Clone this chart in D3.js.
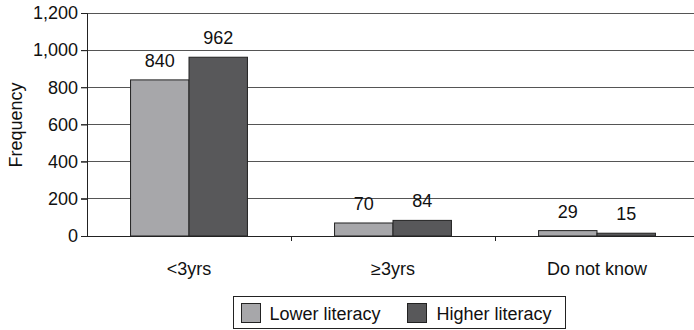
<!DOCTYPE html>
<html>
<head>
<meta charset="utf-8">
<script src="https://cdn.jsdelivr.net/npm/d3@7"></script>
<style>
  html, body { margin: 0; padding: 0; background: #fff; }
  svg { display: block; font-family: "Liberation Sans", Arial, sans-serif; }
</style>
</head>
<body>
<svg id="chart" width="694" height="330"></svg>
<script>
// Knowledge of duration, by literacy level
const categories = ["<3yrs", "\u22653yrs", "Do not know"];
const seriesNames = ["Lower literacy", "Higher literacy"];
const lowerLiteracy = [840, 70, 29];
const higherLiteracy = [962, 84, 15];
const yTicks = [0, 200, 400, 600, 800, 1000, 1200];
const colors = ["#a7a7aa", "#58585a"];

const svg = d3.select("#chart");
const margin = { left: 87, top: 13, right: -5, bottom: 94 };
const width = 694 - margin.left - margin.right;
const height = 330 - margin.top - margin.bottom;

const g = svg.append("g").attr("transform", `translate(${margin.left},${margin.top})`);

const x = d3.scaleBand().domain(categories).range([0, width]).paddingInner(0).paddingOuter(0);
const xs = d3.scaleBand().domain(seriesNames).range([0, x.bandwidth()]).paddingInner(0).paddingOuter(0.745);
const y = d3.scaleLinear().domain([0, 1200]).range([height, 0]);

// gridlines
g.append("g").selectAll("line").data(yTicks.filter(t => t > 0)).join("line")
  .attr("x1", -6).attr("x2", width)
  .attr("y1", d => y(d)).attr("y2", d => y(d))
  .attr("stroke", "#555").attr("stroke-width", 1).attr("shape-rendering", "crispEdges");

// y axis
const yAxis = g.append("g").call(d3.axisLeft(y).tickValues(yTicks).tickFormat(d3.format(",")).tickSize(6).tickPadding(3));
yAxis.select(".domain").attr("stroke", "#222");
yAxis.selectAll(".tick line").attr("stroke", "#222");
yAxis.selectAll("text").attr("font-size", 18).attr("fill", "#111");

// bars
const rows = categories.map((c, i) => ({ cat: c, vals: [lowerLiteracy[i], higherLiteracy[i]] }));
const grp = g.append("g").selectAll("g").data(rows).join("g")
  .attr("transform", d => `translate(${x(d.cat)},0)`);
grp.selectAll("rect").data(d => d.vals.map((v, j) => ({ v, s: seriesNames[j], j }))).join("rect")
  .attr("x", d => xs(d.s)).attr("width", xs.bandwidth())
  .attr("y", d => y(d.v)).attr("height", d => y(0) - y(d.v))
  .attr("fill", d => colors[d.j]).attr("stroke", "#222").attr("stroke-width", 1);
grp.selectAll("text").data(d => d.vals.map((v, j) => ({ v, s: seriesNames[j] }))).join("text")
  .attr("x", d => xs(d.s) + xs.bandwidth() / 2)
  .attr("y", d => y(d.v) - 13)
  .attr("text-anchor", "middle").attr("font-size", 18).attr("fill", "#111")
  .text(d => d.v);

// x axis
const xAxis = g.append("g").attr("transform", `translate(0,${height})`)
  .call(d3.axisBottom(x).tickSize(0).tickPadding(26.5));
xAxis.select(".domain").remove();
xAxis.selectAll("text").attr("font-size", 18).attr("fill", "#111");
g.append("line").attr("x1", 0).attr("x2", width).attr("y1", height).attr("y2", height)
  .attr("stroke", "#222").attr("shape-rendering", "crispEdges");
g.append("g").selectAll("line").data(categories.slice(1)).join("line")
  .attr("x1", d => x(d)).attr("x2", d => x(d))
  .attr("y1", height).attr("y2", height + 5)
  .attr("stroke", "#222").attr("shape-rendering", "crispEdges");

// y title
svg.append("text").attr("transform", "translate(22,125) rotate(-90)")
  .attr("text-anchor", "middle").attr("font-size", 18).attr("fill", "#111").text("Frequency");

// legend
const lg = svg.append("g").attr("transform", "translate(233.5,296.5)");
lg.append("rect").attr("width", 332).attr("height", 32).attr("fill", "#fff").attr("stroke", "#222");
const items = [{ x: 8, tx: 36 }, { x: 174, tx: 203 }];
items.forEach((it, i) => {
  lg.append("rect").attr("x", it.x).attr("y", 7).attr("width", 19).attr("height", 19)
    .attr("fill", colors[i]).attr("stroke", "#222");
  lg.append("text").attr("x", it.tx).attr("y", 23).attr("font-size", 18).attr("fill", "#111").text(seriesNames[i]);
});
</script>
</body>
</html>
